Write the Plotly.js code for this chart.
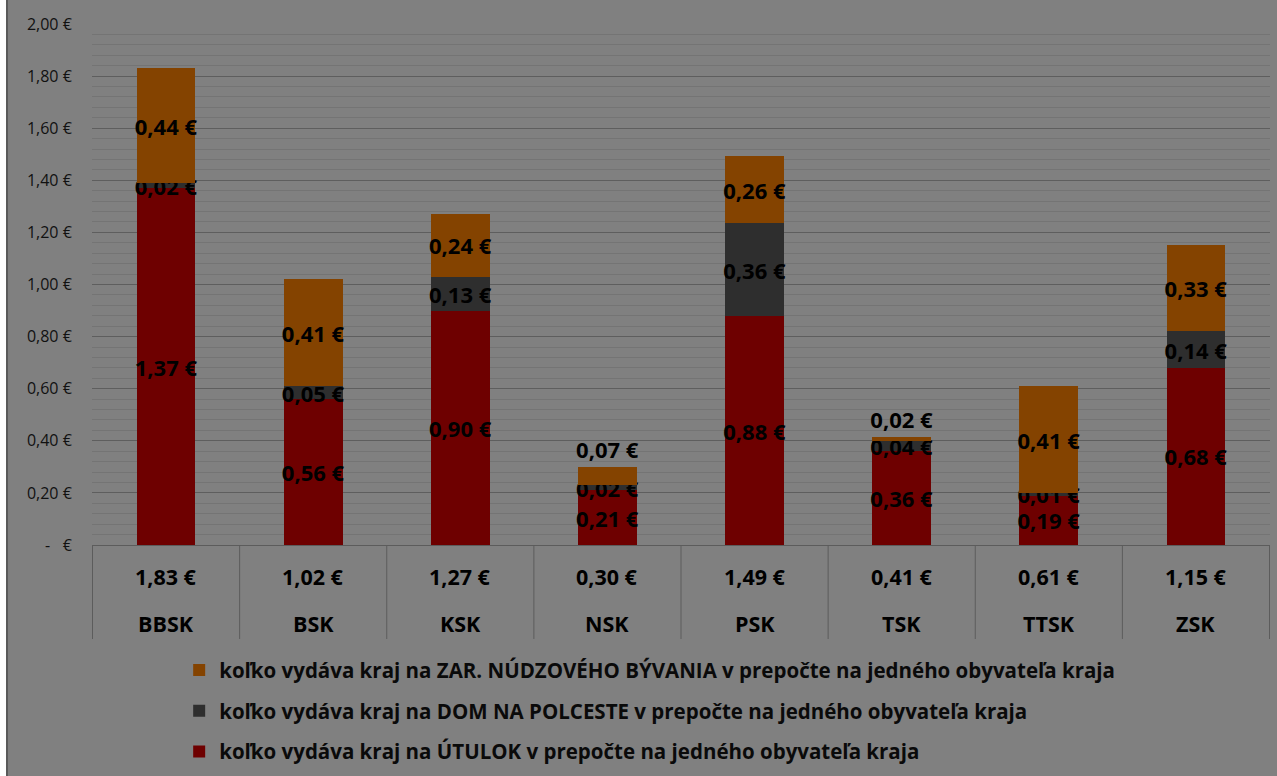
<!DOCTYPE html>
<html>
<head>
<meta charset="utf-8">
<script src="https://cdn.plot.ly/plotly-3.0.1.min.js"></script>
<style>
  html, body { margin: 0; padding: 0; background: #ffffff; }
  #chart { position: absolute; left: 6px; top: 0; width: 1269px; height: 776px; border-left: 2px solid #5a5a5a; }
</style>
</head>
<body>
<div id="chart"></div>
<script>
// ---- data ----
const categories = ['BBSK', 'BSK', 'KSK', 'NSK', 'PSK', 'TSK', 'TTSK', 'ZSK'];
const utulok      = [1.37, 0.56, 0.90, 0.21, 0.879, 0.362, 0.19, 0.68];
const domPolceste = [0.02, 0.05, 0.13, 0.02, 0.357, 0.036, 0.01, 0.14];
const zarNudzByv  = [0.44, 0.41, 0.24, 0.07, 0.256, 0.016, 0.41, 0.33];
const totals      = ['1,83 €', '1,02 €', '1,27 €', '0,30 €', '1,49 €', '0,41 €', '0,61 €', '1,15 €'];
const yTickVals   = [0, 0.2, 0.4, 0.6, 0.8, 1.0, 1.2, 1.4, 1.6, 1.8, 2.0];
const yTickText   = ['-   €', '0,20 €', '0,40 €', '0,60 €', '0,80 €', '1,00 €', '1,20 €', '1,40 €', '1,60 €', '1,80 €', '2,00 €'];
const seriesNames = [
  'koľko vydáva kraj na ÚTULOK v prepočte na jedného obyvateľa kraja',
  'koľko vydáva kraj na DOM NA POLCESTE v prepočte na jedného obyvateľa kraja',
  'koľko vydáva kraj na ZAR. NÚDZOVÉHO BÝVANIA v prepočte na jedného obyvateľa kraja'
];
const outsideLabelCats = ['NSK', 'TSK'];

// ---- helpers ----
const FONT = '"Open Sans", "Noto Sans", Arial, sans-serif';
const fmt = v => v.toFixed(2).replace('.', ',') + ' €';
const labelFont = { family: FONT, size: 22, color: '#000000', weight: 'bold' };

function barTrace(vals, name, color, group, rank, posFn) {
  return {
    type: 'bar',
    x: categories,
    y: vals,
    name: name,
    legendgroup: group,
    legendrank: rank,
    marker: { color: color, line: { width: 0 } },
    text: vals.map(fmt),
    textposition: categories.map(posFn),
    insidetextanchor: 'middle',
    textangle: 0,
    constraintext: 'none',
    cliponaxis: false,
    textfont: labelFont,
    insidetextfont: labelFont,
    outsidetextfont: labelFont,
    hoverinfo: 'skip'
  };
}

const traces = [
  barTrace(utulok, seriesNames[0], '#6e0000', 'g1', 3, () => 'inside'),
  barTrace(domPolceste, seriesNames[1], '#2e2e2e', 'g2', 2, () => 'inside'),
  barTrace(zarNudzByv, seriesNames[2], '#844300', 'g3', 1, c => outsideLabelCats.includes(c) ? 'outside' : 'inside')
];

// category table below axis
const annotations = [];
const tableFont = { family: FONT, size: 21.5, color: '#000', weight: 'bold' };
categories.forEach((c, i) => {
  annotations.push({ x: c, xref: 'x', y: -0.0614, yref: 'paper', text: totals[i], showarrow: false,
    xanchor: 'center', yanchor: 'middle', font: tableFont });
  annotations.push({ x: c, xref: 'x', y: -0.1516, yref: 'paper', text: c, showarrow: false,
    xanchor: 'center', yanchor: 'middle', font: tableFont });
});
const shapes = [];
for (let i = 0; i <= categories.length; i++) {
  shapes.push({ type: 'line', xref: 'x', yref: 'paper', x0: i - 0.5, x1: i - 0.5, y0: 0, y1: -0.1804,
    line: { color: '#5c5c5c', width: 1 } });
}

const layout = {
  width: 1269, height: 776,
  paper_bgcolor: '#808080',
  plot_bgcolor: '#808080',
  margin: { l: 84, r: 7, t: 24, b: 231 },
  barmode: 'stack',
  bargap: 0.6,
  separators: ', ',
  showlegend: true,
  legend: {
    xref: 'paper', x: 0.074, xanchor: 'left',
    yref: 'container', y: 0.162, yanchor: 'top',
    orientation: 'v',
    traceorder: 'grouped',
    tracegroupgap: 11,
    bgcolor: 'rgba(0,0,0,0)',
    font: { family: FONT, size: 20.5, color: '#0a0a0a', weight: 'bold' }
  },
  xaxis: {
    type: 'category',
    showticklabels: false,
    showline: true, linecolor: '#5c5c5c', linewidth: 1,
    ticks: '', showgrid: false, zeroline: false
  },
  yaxis: {
    range: [0, 2.0],
    tickmode: 'array', tickvals: yTickVals, ticktext: yTickText,
    ticks: 'outside', ticklen: 16, tickcolor: 'rgba(0,0,0,0)',
    tickfont: { family: FONT, size: 16, color: '#111111' },
    showgrid: true, gridcolor: '#5e5e5e', gridwidth: 1,
    minor: { tickmode: 'linear', tick0: 0, dtick: 0.04, showgrid: true, gridcolor: '#747474', gridwidth: 1, ticks: '' },
    zeroline: false, showline: false
  },
  annotations: annotations,
  shapes: shapes
};

Plotly.newPlot('chart', traces, layout, { displayModeBar: false, staticPlot: true });
</script>
</body>
</html>
